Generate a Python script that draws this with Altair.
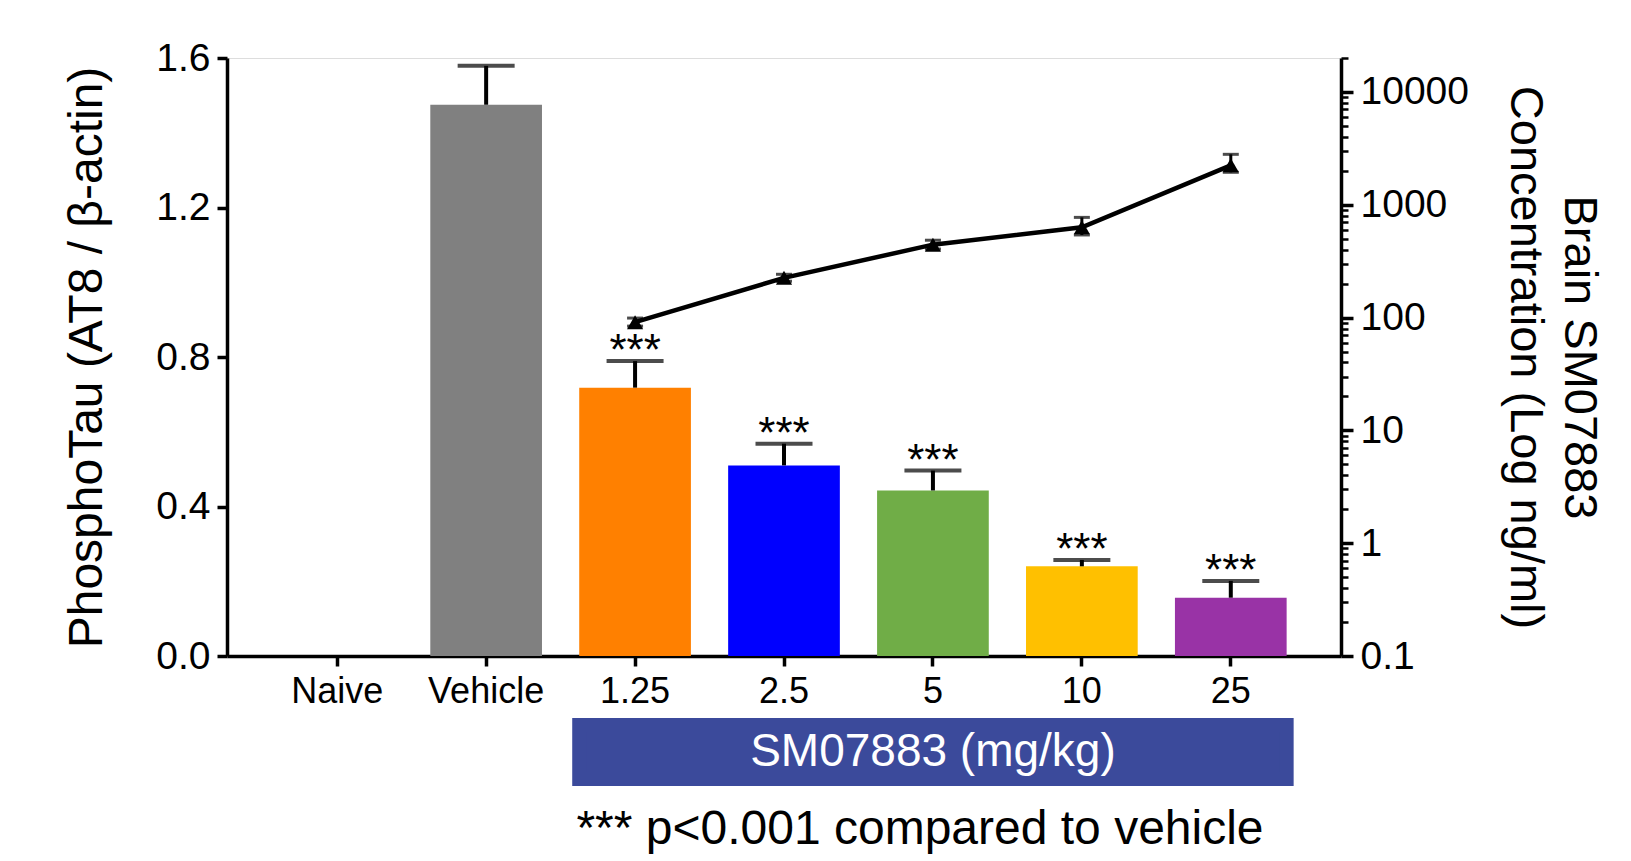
import altair as alt
import pandas as pd

# ---------------- data ----------------
groups = ["Naive", "Vehicle", "1.25", "2.5", "5", "10", "25"]
tau_mean = [None, 1.475, 0.718, 0.510, 0.443, 0.240, 0.156]
tau_sem = [None, 0.104, 0.071, 0.058, 0.053, 0.017, 0.045]
tau_sig = ["", "", "***", "***", "***", "***", "***"]
bar_colors = ["#808080", "#808080", "#FF8000", "#0000FF", "#70AD47", "#FFC000", "#9933A6"]

doses = ["1.25", "2.5", "5", "10", "25"]
conc_mean = [91, 225, 443, 631, 2236]
conc_low = [84, 210, 405, 540, 1940]
conc_high = [99, 242, 485, 773, 2800]

conc_major_ticks = [0.1, 1, 10, 100, 1000, 10000]
conc_minor_ticks = [m * d for d in [0.1, 1, 10, 100, 1000] for m in range(2, 10)] + [20000]
conc_all_ticks = sorted(conc_major_ticks + conc_minor_ticks)

box_label = "SM07883 (mg/kg)"
footnote = "*** p<0.001 compared to vehicle"
left_title = "PhosphoTau (AT8 / β-actin)"
right_title = ["Brain SM07883", "Concentration (Log ng/ml)"]

FONT = "Liberation Sans"
BOX_COLOR = "#3B4A9B"

tau_df = pd.DataFrame({"group": groups, "mean": tau_mean, "sem": tau_sem, "sig": tau_sig})
tau_df = tau_df.dropna(subset=["mean"])
tau_df["upper"] = tau_df["mean"] + tau_df["sem"]

conc_df = pd.DataFrame({"group": doses, "conc": conc_mean, "lo": conc_low, "hi": conc_high})
box_df = pd.DataFrame({"c1": [doses[0]], "c2": [doses[-1]], "mid": [doses[len(doses) // 2]], "label": [box_label]})

major_list = "[" + ",".join(repr(v) for v in conc_major_ticks) + "]"
is_major = f"indexof({major_list}, datum.value) >= 0"

# ---------------- scales / axes ----------------
x_scale = alt.Scale(domain=groups, paddingInner=0.25, paddingOuter=0.365)
x_axis = alt.Axis(title=None, labelAngle=0, labelFontSize=36, labelPadding=8, tickSize=10,
                  tickWidth=3.5, domainWidth=3.5, bandPosition=0.5, labelColor="black", grid=False)


def X(field, **kw):
    return alt.X(f"{field}:N", scale=x_scale, axis=x_axis, **kw)


y_left_scale = alt.Scale(domain=[0, 1.6], nice=False, zero=True)
y_left_axis = alt.Axis(values=[0, 0.4, 0.8, 1.2, 1.6], format=".1f", title=left_title,
                       titleFontSize=48, titleFontWeight="normal", titlePadding=44,
                       labelFontSize=39, labelPadding=7, tickSize=10, tickWidth=3.5,
                       domainWidth=3.5, labelFlush=False, labelColor="black", titleColor="black",
                       grid=False)

y_right_scale = alt.Scale(type="log", domain=[0.1, 20000], nice=False)
y_right_axis = alt.Axis(orient="right", values=conc_all_ticks,
                        labelExpr=f"{is_major} ? format(datum.value, '~g') : ''",
                        title=right_title,
                        titleAngle=90, titleFontSize=47, titleFontWeight="normal", titleLineHeight=54,
                        titlePadding=32, labelFontSize=39, labelPadding=7, labelOverlap=False,
                        tickSize={"condition": {"test": is_major, "value": 12}, "value": 7},
                        tickWidth={"condition": {"test": is_major, "value": 3.5}, "value": 2.5},
                        domainWidth=3.5, labelFlush=False, offset=0,
                        labelColor="black", titleColor="black", grid=False)

# ---------------- left layer (bars) ----------------
base_tau = alt.Chart(tau_df)
bars = base_tau.mark_bar().encode(
    x=X("group"),
    y=alt.Y("mean:Q", scale=y_left_scale, axis=y_left_axis),
    color=alt.Color("group:N", scale=alt.Scale(domain=groups, range=bar_colors), legend=None),
)
err_rule = base_tau.mark_rule(color="black", strokeWidth=4).encode(
    x=X("group"), y=alt.Y("mean:Q"), y2="upper:Q")
err_cap = base_tau.mark_tick(color="black", thickness=4, size=57).encode(
    x=X("group"), y=alt.Y("upper:Q"))
stars = base_tau.mark_text(fontSize=44, baseline="alphabetic", dy=4, color="black").encode(
    x=X("group"), y=alt.Y("upper:Q"), text="sig:N")
left = alt.layer(bars, err_rule, err_cap, stars)

# ---------------- right layer (concentration) ----------------
base_c = alt.Chart(conc_df)
line = base_c.mark_line(color="black", strokeWidth=4.5).encode(
    x=X("group"), y=alt.Y("conc:Q", scale=y_right_scale, axis=y_right_axis))
c_rule = base_c.mark_rule(color="black", strokeWidth=3).encode(
    x=X("group"), y=alt.Y("lo:Q"), y2="hi:Q")
c_cap_hi = base_c.mark_tick(color="black", thickness=3, size=16).encode(x=X("group"), y=alt.Y("hi:Q"))
c_cap_lo = base_c.mark_tick(color="black", thickness=3, size=16).encode(x=X("group"), y=alt.Y("lo:Q"))
pts = base_c.mark_point(shape="triangle-up", filled=True, size=260, color="black", opacity=1).encode(
    x=X("group"), y=alt.Y("conc:Q"))
right = alt.layer(line, c_rule, c_cap_hi, c_cap_lo, pts)

# ---------------- annotations ----------------
box = alt.Chart(box_df).mark_rect(color=BOX_COLOR, stroke=BOX_COLOR, strokeWidth=14).encode(
    x=X("c1", bandPosition=0),
    x2=alt.X2("c2", bandPosition=1),
    y=alt.value(667), y2=alt.value(721))
box_text = alt.Chart(box_df).mark_text(color="white", fontSize=46, baseline="middle").encode(
    x=X("mid"), y=alt.value(694), text="label:N")
foot = alt.Chart(box_df).mark_text(color="black", fontSize=48, baseline="middle").encode(
    x=alt.value(693), y=alt.value(772), text=alt.value(footnote))

chart = alt.layer(
    alt.layer(left, box, box_text, foot),
    right,
).resolve_scale(y="independent", color="independent").properties(
    width=1114, height=598,
    padding={"left": 55, "top": 26, "right": 5, "bottom": 5},
).configure_view(stroke="white", strokeWidth=0, strokeOpacity=0).configure(font=FONT).configure_axis(
    grid=False, gridOpacity=0, domainColor="black", tickColor="black")

chart.save("out.html", embed_options={"renderer": "svg", "actions": False})
